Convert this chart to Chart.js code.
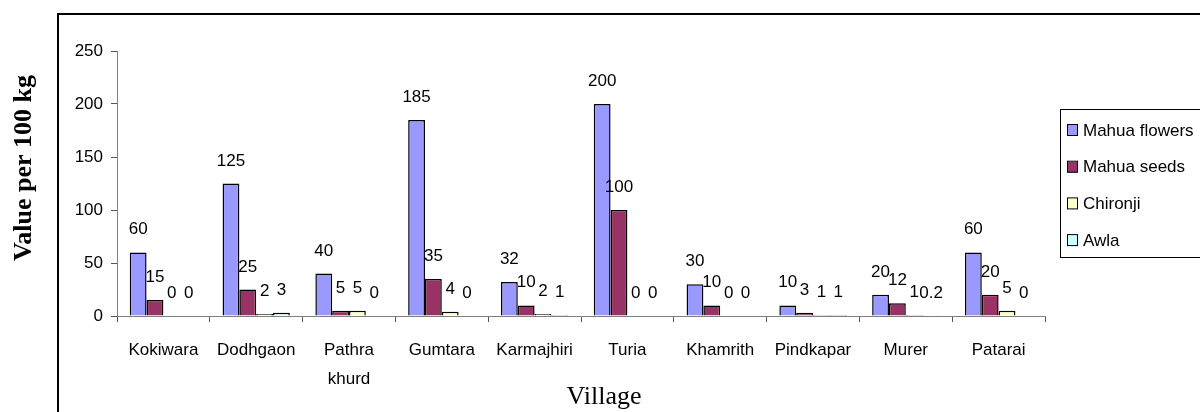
<!DOCTYPE html>
<html>
<head>
<meta charset="utf-8">
<script src="https://cdn.jsdelivr.net/npm/chart.js@4"></script>
<style>body{margin:0;background:#fff}</style>
</head>
<body>
<canvas id="chart" width="1200" height="412"></canvas>
<script>
const villages = ['Kokiwara', 'Dodhgaon', ['Pathra', 'khurd'], 'Gumtara', 'Karmajhiri', 'Turia', 'Khamrith', 'Pindkapar', 'Murer', 'Patarai'];
const mahuaFlowers = [60, 125, 40, 185, 32, 200, 30, 10, 20, 60];
const mahuaSeeds = [15, 25, 5, 35, 10, 100, 10, 3, 12, 20];
const chironji = [0, 2, 5, 4, 2, 0, 0, 1, 1, 5];
const awla = [0, 3, 0, 0, 1, 0, 0, 1, 0.2, 0];

const sans = "'Liberation Sans', Arial, sans-serif";
const serif = "'Liberation Serif', 'Times New Roman', serif";

// value labels above every bar
const barLabels = {
  id: 'barLabels',
  afterDatasetsDraw(chart) {
    const ctx = chart.ctx;
    ctx.save();
    ctx.font = '17px ' + sans;
    ctx.fillStyle = '#000';
    ctx.textAlign = 'center';
    ctx.textBaseline = 'alphabetic';
    chart.data.datasets.forEach((ds, i) => {
      chart.getDatasetMeta(i).data.forEach((bar, j) => {
        ctx.fillText(String(ds.data[j]), bar.x, bar.y - 18);
      });
    });
    ctx.restore();
  }
};

// frame, titles and boxed legend like the excel original
const decorations = {
  id: 'decorations',
  afterDraw(chart) {
    const ctx = chart.ctx;
    ctx.save();
    ctx.strokeStyle = '#000';
    ctx.lineWidth = 2;
    ctx.beginPath();
    ctx.moveTo(58, 412);
    ctx.lineTo(58, 14);
    ctx.lineTo(1200, 14);
    ctx.stroke();

    ctx.fillStyle = '#000';
    ctx.font = '26px ' + serif;
    ctx.textAlign = 'center';
    ctx.fillText('Village', 604, 404);

    ctx.save();
    ctx.translate(31, 168);
    ctx.rotate(-Math.PI / 2);
    ctx.font = 'bold 26px ' + serif;
    ctx.fillText('Value per 100 kg', 0, 0);
    ctx.restore();

    ctx.lineWidth = 1;
    ctx.strokeRect(1060.5, 109.5, 160, 148);
    ctx.font = '17px ' + sans;
    ctx.textAlign = 'left';
    ctx.textBaseline = 'middle';
    chart.data.datasets.forEach((ds, i) => {
      const y = 130 + i * 36.7;
      ctx.fillStyle = ds.backgroundColor;
      ctx.fillRect(1067, y - 5, 10, 11);
      ctx.strokeRect(1067.5, y - 5.5, 10, 11);
      ctx.fillStyle = '#000';
      ctx.fillText(ds.label, 1083, y + 1);
    });
    ctx.restore();
  }
};

new Chart(document.getElementById('chart'), {
  type: 'bar',
  data: {
    labels: villages,
    datasets: [
      { label: 'Mahua flowers', data: mahuaFlowers, backgroundColor: '#9999FF' },
      { label: 'Mahua seeds', data: mahuaSeeds, backgroundColor: '#993366' },
      { label: 'Chironji', data: chironji, backgroundColor: '#FFFFCC' },
      { label: 'Awla', data: awla, backgroundColor: '#CCFFFF' }
    ]
  },
  options: {
    responsive: false,
    animation: false,
    datasets: {
      bar: {
        borderColor: '#000',
        borderWidth: 1.5,
        categoryPercentage: 0.725,
        barPercentage: 1
      }
    },
    layout: { padding: { left: 0, top: 51, right: 155, bottom: 0 } },
    plugins: {
      legend: { display: false },
      tooltip: { enabled: false }
    },
    scales: {
      x: {
        afterFit: s => { s.height = 96; },
        grid: { offset: true, drawOnChartArea: false, tickLength: 6, color: '#555' },
        border: { color: '#808080' },
        ticks: {
          autoSkip: false,
          maxRotation: 0,
          padding: 14,
          color: '#000',
          font: { family: sans, size: 17, lineHeight: 1.7 }
        }
      },
      y: {
        min: 0,
        max: 250,
        afterFit: s => { s.width = 117; },
        grid: { drawOnChartArea: false, tickLength: 6, color: '#555' },
        border: { color: '#808080' },
        ticks: {
          stepSize: 50,
          padding: 8,
          color: '#000',
          font: { family: sans, size: 17 }
        }
      }
    }
  },
  plugins: [barLabels, decorations]
});
</script>
</body>
</html>
